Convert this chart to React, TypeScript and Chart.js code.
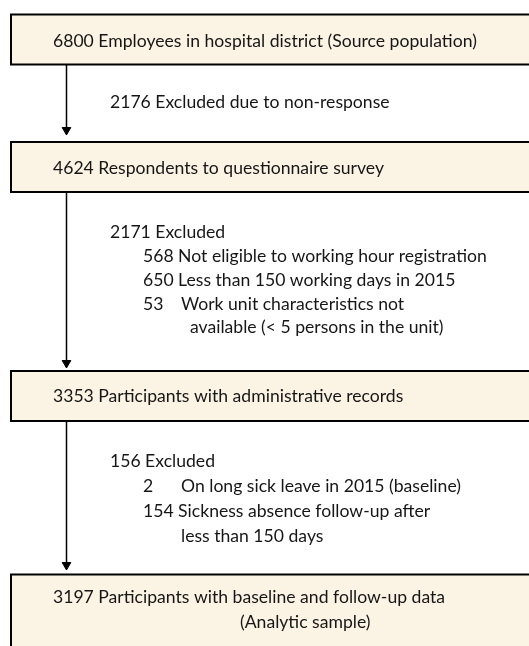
import React, { useEffect, useRef } from "react";
import { Chart, registerables } from "chart.js";

Chart.register(...registerables);

// ---------- data ----------
const stageCounts = [6800, 4624, 3353, 3197];
const stageLabels = [
  "Employees in hospital district (Source population)",
  "Respondents to questionnaire survey",
  "Participants with administrative records",
  "Participants with baseline and follow-up data",
];
const stageNotes = ["", "", "", "(Analytic sample)"];
const excludedCounts = [2176, 2171, 156];
const excludedLabels = ["Excluded due to non-response", "Excluded", "Excluded"];
const reasonCounts: number[][] = [[], [568, 650, 53], [2, 154]];
const reasonLabels: string[][][] = [
  [],
  [
    ["Not eligible to working hour registration"],
    ["Less than 150 working days in 2015"],
    ["Work unit characteristics not", "available (< 5 persons in the unit)"],
  ],
  [
    ["On long sick leave in 2015 (baseline)"],
    ["Sickness absence follow-up after", "less than 150 days"],
  ],
];

// ---------- layout (in the chart's scale units = page pixels) ----------
const W = 529;
const H = 646;
const boxLeft = 11;
const boxRight = 560;
const boxTop = [14.5, 142, 371, 574.5];
const boxBottom = [64.5, 192, 421, 720];
const stageX = 53;
const stageBaseline = [47, 174, 402, 603];
const noteX = 240;
const noteBaseline = 628;
const exclX = 110;
const exclBaseline = [108, 238, 467];
const reasonX = 143;
const reasonCol = 181;
const reasonBaselines: number[][][] = [[], [[262], [286], [310, 333]], [[492], [517, 542]]];
const contX = [0, 190, 181];
const arrowX = 66.5;
const arrowTip = [135, 368, 570];
const headR = 5;

const FONT = "17.6px Lato";
const TEXT = "#161616";
const FILL = "#FBF4E4";

const flowPlugin = {
  id: "flow",
  beforeDatasetsDraw(chart: any) {
    const { ctx, scales } = chart;
    const sx = scales.x, sy = scales.y;
    ctx.save();
    for (let i = 0; i < stageCounts.length; i++) {
      const x0 = sx.getPixelForValue(boxLeft);
      const x1 = sx.getPixelForValue(boxRight);
      const y0 = sy.getPixelForValue(boxTop[i]);
      const y1 = sy.getPixelForValue(boxBottom[i]);
      ctx.fillStyle = FILL;
      ctx.fillRect(x0, y0, x1 - x0, y1 - y0);
      ctx.strokeStyle = "#000";
      ctx.lineWidth = 2;
      ctx.strokeRect(x0, y0, x1 - x0, y1 - y0);
    }
    ctx.restore();
  },
  afterDatasetsDraw(chart: any) {
    const { ctx, scales } = chart;
    const sx = scales.x, sy = scales.y;
    ctx.save();
    ctx.font = FONT;
    ctx.fillStyle = TEXT;
    ctx.textBaseline = "alphabetic";
    ctx.textAlign = "left";
    const put = (s: string, x: number, y: number) =>
      ctx.fillText(s, sx.getPixelForValue(x), sy.getPixelForValue(y));
    for (let i = 0; i < stageCounts.length; i++) {
      put(`${stageCounts[i]} ${stageLabels[i]}`, stageX, stageBaseline[i]);
      if (stageNotes[i]) put(stageNotes[i], noteX, noteBaseline);
    }
    for (let i = 0; i < excludedCounts.length; i++) {
      put(`${excludedCounts[i]} ${excludedLabels[i]}`, exclX, exclBaseline[i]);
      const rc = reasonCounts[i];
      for (let j = 0; j < rc.length; j++) {
        const cs = String(rc[j]);
        const lines = reasonLabels[i][j];
        const ys = reasonBaselines[i][j];
        put(cs, reasonX, ys[0]);
        let lx: number;
        if (cs.length >= 3) {
          lx = reasonX + ctx.measureText(cs + " ").width;
        } else {
          lx = reasonCol;
        }
        put(lines[0], lx, ys[0]);
        for (let k = 1; k < lines.length; k++) put(lines[k], contX[i], ys[k]);
      }
    }
    ctx.restore();
  },
};

export default function App() {
  const ref = useRef<HTMLCanvasElement | null>(null);
  useEffect(() => {
    document.body.style.margin = "0";
    const canvas = ref.current;
    if (!canvas) return;
    const datasets = arrowTip.map((tip, i) => ({
      type: "scatter" as const,
      data: [
        { x: arrowX, y: boxBottom[i] },
        { x: arrowX, y: tip - headR },
      ],
      showLine: true,
      borderColor: "#000",
      borderWidth: 1.5,
      pointRadius: [0, headR],
      pointHoverRadius: [0, headR],
      pointStyle: "triangle",
      pointRotation: 180,
      pointBackgroundColor: "#000",
      pointBorderColor: "#000",
      pointBorderWidth: 1,
    }));
    const chart = new Chart(canvas, {
      type: "scatter",
      data: { datasets },
      options: {
        animation: false,
        responsive: false,
        devicePixelRatio: 1,
        layout: { padding: 0, autoPadding: false },
        events: [],
        plugins: { legend: { display: false }, tooltip: { enabled: false } },
        scales: {
          x: { type: "linear", min: 0, max: W, display: false },
          y: { type: "linear", min: 0, max: H, reverse: true, display: false },
        },
      },
      plugins: [flowPlugin],
    } as any);
    return () => chart.destroy();
  }, []);
  return (
    <div style={{ width: W, height: H, background: "#fff" }}>
      <canvas ref={ref} width={W} height={H} style={{ display: "block" }} />
    </div>
  );
}
